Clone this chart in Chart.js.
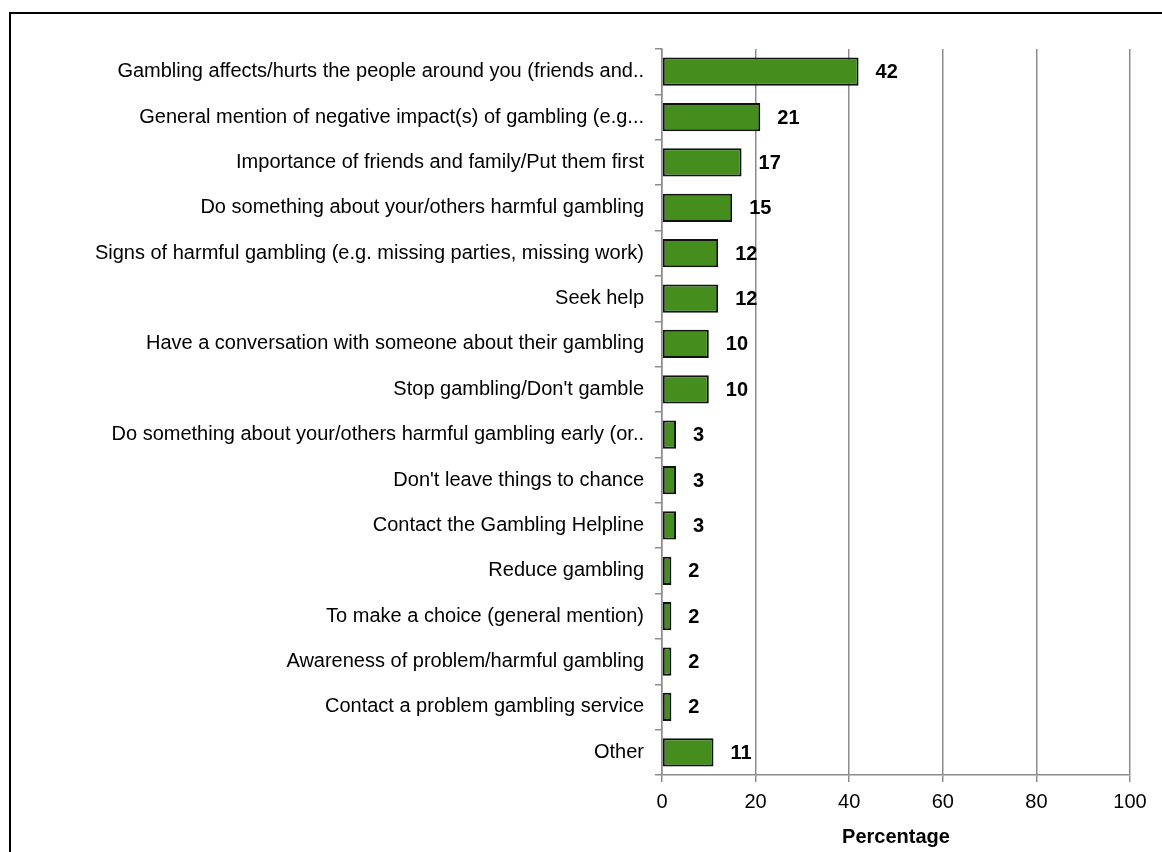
<!DOCTYPE html>
<html>
<head>
<meta charset="utf-8">
<script src="https://cdn.jsdelivr.net/npm/chart.js@4/dist/chart.umd.min.js"></script>
<style>
  html, body { margin: 0; padding: 0; background: #fff; }
  #wrap { position: relative; width: 1162px; height: 852px; overflow: hidden; }
  #frame {
    position: absolute; left: 9px; top: 12px; right: -4px; bottom: -4px;
    border-left: 2px solid #000; border-top: 2px solid #000;
  }
  #chart { position: absolute; left: 0; top: 0; }
</style>
</head>
<body>
<div id="wrap">
  <div id="frame"></div>
  <canvas id="chart" width="1162" height="852"></canvas>
</div>
<script>
// ===== 数据 =====
const CATEGORIES = [
  'Gambling affects/hurts the people around you (friends and..',
  'General mention of negative impact(s) of gambling (e.g...',
  'Importance of friends and family/Put them first',
  'Do something about your/others harmful gambling',
  'Signs of harmful gambling (e.g. missing parties, missing work)',
  'Seek help',
  'Have a conversation with someone about their gambling',
  'Stop gambling/Don\'t gamble',
  'Do something about your/others harmful gambling early (or..',
  'Don\'t leave things to chance',
  'Contact the Gambling Helpline',
  'Reduce gambling',
  'To make a choice (general mention)',
  'Awareness of problem/harmful gambling',
  'Contact a problem gambling service',
  'Other'
];
const PERCENTAGES = [42, 21, 17, 15, 12, 12, 10, 10, 3, 3, 3, 2, 2, 2, 2, 11];
const X_MIN = 0;
const X_MAX = 100;
const X_STEP = 20;
const X_TITLE = 'Percentage';

// ===== 样式常量 =====
const BAR_COLOR = '#458e1e';
const BAR_BORDER = '#111';
const AXIS_GRAY = '#8c8c8c';
const FONT = "'Liberation Sans', Arial, sans-serif";
const FONT_SIZE = 20;

Chart.defaults.font.family = FONT;
Chart.defaults.font.size = FONT_SIZE;
Chart.defaults.color = '#000';

// 柱子右侧的数值标签
const valueLabels = {
  id: 'valueLabels',
  afterDatasetsDraw(chart) {
    const ctx = chart.ctx;
    const meta = chart.getDatasetMeta(0);
    ctx.save();
    ctx.font = 'bold ' + FONT_SIZE + 'px ' + FONT;
    ctx.fillStyle = '#000';
    ctx.textAlign = 'left';
    ctx.textBaseline = 'middle';
    meta.data.forEach((bar, i) => {
      ctx.fillText(String(PERCENTAGES[i]), bar.x + 17, bar.y + 1);
    });
    ctx.restore();
  }
};

new Chart(document.getElementById('chart'), {
  type: 'bar',
  data: {
    labels: CATEGORIES,
    datasets: [{
      data: PERCENTAGES,
      backgroundColor: BAR_COLOR,
      borderColor: BAR_BORDER,
      borderWidth: 2,
      borderSkipped: false,
      barPercentage: 0.62,
      categoryPercentage: 1
    }]
  },
  options: {
    indexAxis: 'y',
    responsive: false,
    animation: false,
    layout: { padding: { left: 0, right: 32, top: 49, bottom: 3 } },
    plugins: {
      legend: { display: false },
      tooltip: { enabled: false }
    },
    scales: {
      x: {
        min: X_MIN,
        max: X_MAX,
        ticks: { stepSize: X_STEP, padding: 8, color: '#000' },
        grid: { color: AXIS_GRAY, lineWidth: 1.5, tickLength: 7, drawTicks: true },
        border: { display: true, color: AXIS_GRAY, width: 1.5 },
        title: {
          display: true,
          text: X_TITLE,
          font: { weight: 'bold' },
          padding: { top: 11, bottom: 0 }
        },
        afterFit: (scale) => { scale.height = 74; }
      },
      y: {
        ticks: { padding: 11, color: '#000', autoSkip: false },
        grid: { drawOnChartArea: false, color: AXIS_GRAY, lineWidth: 1.5, tickLength: 7, offset: true },
        border: { display: true, color: AXIS_GRAY, width: 1.5 },
        afterFit: (scale) => { scale.width = 662; }
      }
    }
  },
  plugins: [valueLabels]
});
</script>
</body>
</html>
